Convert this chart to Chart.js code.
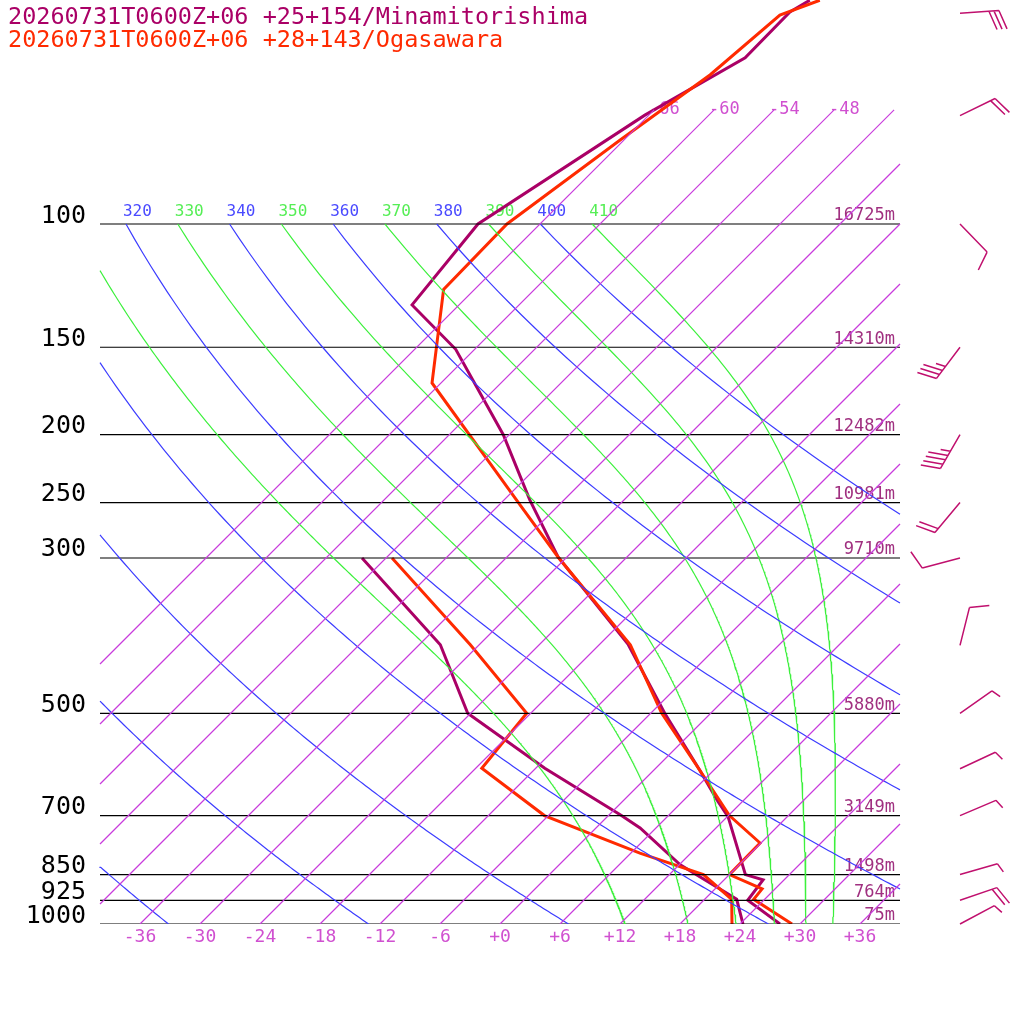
<!DOCTYPE html>
<html>
<head>
<meta charset="utf-8">
<script src="https://cdn.jsdelivr.net/npm/chart.js@4"></script>
<style>body{margin:0;background:#fff}canvas{display:block}</style>
</head>
<body>
<canvas id="skewt" width="1024" height="1024"></canvas>
<script>
// sounding values (pressure hPa, temperature °C)
const minaTempP = [47.9, 49.8, 57.9, 69.9, 100, 130.5, 151, 200, 248, 299, 399, 500, 603, 665, 703, 850, 865, 925, 1000];
const minaTempT = [-61.4, -62.2, -62.1, -66.4, -72.2, -70.7, -61.9, -48.6, -39.4, -30.9, -15.1, -4.6, 4.6, 9.3, 12.1, 19.6, 21.9, 22.4, 28.0];
const minaDewP = [300, 399, 500, 599, 700, 729, 823, 922, 1000];
const minaDewT = [-50.4, -33.9, -24.3, -11.1, 1.3, 4.4, 12.1, 21.2, 24.3];
const ogaTempP = [47.9, 50.3, 61.2, 75.9, 100, 124, 168.7, 252, 299, 399, 500, 603, 700, 766, 850, 891, 922, 1000];
const ogaTempT = [-60.4, -62.9, -63.9, -66.4, -69.3, -69.1, -60.9, -39.9, -30.9, -14.9, -4.9, 4.6, 12.1, 17.9, 18.0, 22.7, 22.9, 29.2];
const ogaDewP = [300, 399, 500, 599, 700, 792, 850, 922, 1000];
const ogaDewT = [-47.4, -30.9, -18.4, -17.4, -6.4, 6.9, 15.4, 20.7, 23.2];

const levels = [100, 150, 200, 250, 300, 500, 700, 850, 925, 1000];
const heights = ['16725m', '14310m', '12482m', '10981m', '9710m', '5880m', '3149m', '1498m', '764m', '75m'];
const isotherms = [-66, -60, -54, -48, -42, -36, -30, -24, -18, -12, -6, 0, 6, 12, 18, 24, 30, 36];
const tempTicks = [-36, -30, -24, -18, -12, -6, 0, 6, 12, 18, 24, 30, 36];
const dryThetas = [240, 260, 280, 300, 320, 340, 360, 380, 400];
const moistThetas = [310, 330, 350, 370, 390, 410];

// wind barbs: pressure, staff angle (deg, screen), full barbs, half barbs
const barbP = [50, 70, 100, 150, 200, 250, 300, 400, 500, 600, 700, 850, 925, 1000];
const barbAng = [-4, -26, 46, 127, 120, 130, 165, -76, -35, -25, -23, -16, -19, -28];
const barbFull = [3, 2, 1, 3, 4, 2, 1, 1, 0, 0, 0, 0, 2, 0];
const barbHalf = [0, 0, 0, 1, 1, 0, 0, 0, 1, 1, 1, 1, 0, 1];

const PURPLE = '#aa0066', ORANGE = '#ff2a00';
const TOPP = 1000 * Math.pow(10, -924 / 700);
const skew = p => 70 * Math.log10(1000 / p);
const toXY = (t, p) => ({x: t + skew(p), y: p});

function clip(pts) {
  const out = [];
  let prevIn = false;
  for (let i = 0; i < pts.length; i++) {
    const b = pts[i], inB = b.x >= -40 && b.x <= 40;
    if (i > 0) {
      const a = pts[i - 1];
      if (inB !== prevIn) {
        const edge = (inB ? a.x : b.x) < -40 ? -40 : 40;
        const f = (edge - a.x) / (b.x - a.x);
        const ly = Math.log(a.y) + f * (Math.log(b.y) - Math.log(a.y));
        out.push({x: edge, y: Math.exp(ly)});
        if (!inB) out.push({x: null, y: null});
      }
    }
    if (inB) out.push(b);
    prevIn = inB;
  }
  return out;
}

function dryLine(th) {
  const pts = [];
  for (let p = 1000; p >= 100; p -= 5) pts.push(toXY(th * Math.pow(p / 1000, 0.2857) - 273.15, p));
  return clip(pts);
}

function moistLine(th) {
  let T = th * Math.pow(0.1, 0.2857);
  const pts = [toXY(T - 273.15, 100)];
  for (let p = 100; p < 1000; p += 2) {
    const es = 6.112 * Math.exp(17.67 * (T - 273.15) / (T - 29.65));
    const rs = 0.622 * es / (p - es);
    const dTdp = (287 * T + 2.5e6 * rs) / (p * (1004 + 2.5e6 * 2.5e6 * rs * 0.622 / (287 * T * T)));
    T += dTdp * 2;
    pts.push(toXY(T - 273.15, p + 2));
  }
  return clip(pts);
}

function line(data, color, width) {
  return {data, borderColor: color, backgroundColor: color, borderWidth: width, pointRadius: 0, fill: false, tension: 0, spanGaps: false};
}

const datasets = [];
isotherms.forEach(t => {
  const lo = Math.max(0, (-40 - t) / 70), hi = Math.min(1.163, (40 - t) / 70);
  if (hi > lo) datasets.push(line([toXY(t, 1000 / Math.pow(10, lo)), toXY(t, 1000 / Math.pow(10, hi))], 'rgb(200,60,220)', 1.2));
});
dryThetas.forEach(th => datasets.push(line(dryLine(th), 'rgb(60,60,255)', 1.2)));
moistThetas.forEach(th => datasets.push(line(moistLine(th), 'rgb(60,240,60)', 1.2)));
levels.forEach(p => datasets.push(line([{x: -40, y: p}, {x: 40, y: p}], '#000', 1.2)));
datasets.push(line(ogaDewP.map((p, i) => toXY(ogaDewT[i], p)), ORANGE, 3));
datasets.push(line(ogaTempP.map((p, i) => toXY(ogaTempT[i], p)), ORANGE, 3));
datasets.push(line(minaDewP.map((p, i) => toXY(minaDewT[i], p)), PURPLE, 3));
datasets.push(line(minaTempP.map((p, i) => toXY(minaTempT[i], p)), PURPLE, 3));

const labels = {
  id: 'labels',
  beforeDatasetsDraw(chart) {
    const {ctx, scales: {x, y}} = chart;
    ctx.save();
    ctx.textBaseline = 'middle';
    ctx.font = '17px "DejaVu Sans Mono"';
    ctx.fillStyle = '#d050d0';
    isotherms.filter(t => t + 81.4 <= 36).forEach(t => {
      ctx.fillText(t, x.getPixelForValue(t + 81.4) - 5, 110);
    });
    ctx.textAlign = 'center';
    ctx.font = '18px "DejaVu Sans Mono"';
    tempTicks.forEach(t => ctx.fillText(t >= 0 ? '+' + t : t, x.getPixelForValue(t), 937));
    ctx.textAlign = 'left';
    ctx.font = '16px "DejaVu Sans Mono"';
    ctx.beginPath(); ctx.rect(100, 190, 800, 40); ctx.clip();
    dryThetas.forEach(th => {
      ctx.fillStyle = '#4a4aff';
      ctx.fillText(th, x.getPixelForValue(th * Math.pow(0.1, 0.2857) - 273.15 + 70) - 3, 212);
    });
    moistThetas.forEach(th => {
      ctx.fillStyle = '#55ee55';
      ctx.fillText(th, x.getPixelForValue(th * Math.pow(0.1, 0.2857) - 273.15 + 70) - 3, 212);
    });
    ctx.restore();
    ctx.save();
    ctx.textBaseline = 'middle';
    levels.forEach((p, i) => {
      const py = y.getPixelForValue(p);
      ctx.textAlign = 'right';
      ctx.fillStyle = '#000';
      ctx.font = '25px "DejaVu Sans Mono"';
      ctx.fillText(p, 86, py - 8);
      ctx.fillStyle = '#a03080';
      ctx.font = '17px "DejaVu Sans Mono"';
      ctx.fillText(heights[i], 895, py - 8);
    });
    ctx.restore();
  },
  afterDraw(chart) {
    const {ctx, scales: {y}} = chart;
    ctx.save();
    ctx.font = '23.5px "DejaVu Sans Mono"';
    ctx.textBaseline = 'middle';
    ctx.fillStyle = PURPLE;
    ctx.fillText('20260731T0600Z+06 +25+154/Minamitorishima', 8, 18);
    ctx.fillStyle = ORANGE;
    ctx.fillText('20260731T0600Z+06 +28+143/Ogasawara', 8, 41);
    ctx.strokeStyle = '#c0106e';
    ctx.lineWidth = 1.5;
    barbP.forEach((p, i) => {
      const x0 = 960, y0 = y.getPixelForValue(p);
      const a = barbAng[i] * Math.PI / 180, len = 39;
      const ex = x0 + len * Math.cos(a), ey = y0 + len * Math.sin(a);
      ctx.beginPath(); ctx.moveTo(x0, y0); ctx.lineTo(ex, ey);
      const b = a + 70 * Math.PI / 180;
      let d = 0;
      for (let k = 0; k < barbFull[i] + barbHalf[i]; k++) {
        const bl = k < barbFull[i] ? 20 : 10;
        const sx = ex - d * Math.cos(a), sy = ey - d * Math.sin(a);
        ctx.moveTo(sx, sy); ctx.lineTo(sx + bl * Math.cos(b), sy + bl * Math.sin(b));
        d += 5;
      }
      ctx.stroke();
    });
    ctx.restore();
  }
};

new Chart(document.getElementById('skewt'), {
  type: 'line',
  data: {datasets},
  options: {
    responsive: false, animation: false, devicePixelRatio: 1,
    layout: {padding: {bottom: 100}},
    plugins: {legend: {display: false}, tooltip: {enabled: false}},
    scales: {
      x: {type: 'linear', min: -50, max: 52.4, display: false},
      y: {type: 'logarithmic', min: TOPP, max: 1000, reverse: true, display: false}
    }
  },
  plugins: [labels]
});
</script>
</body>
</html>
